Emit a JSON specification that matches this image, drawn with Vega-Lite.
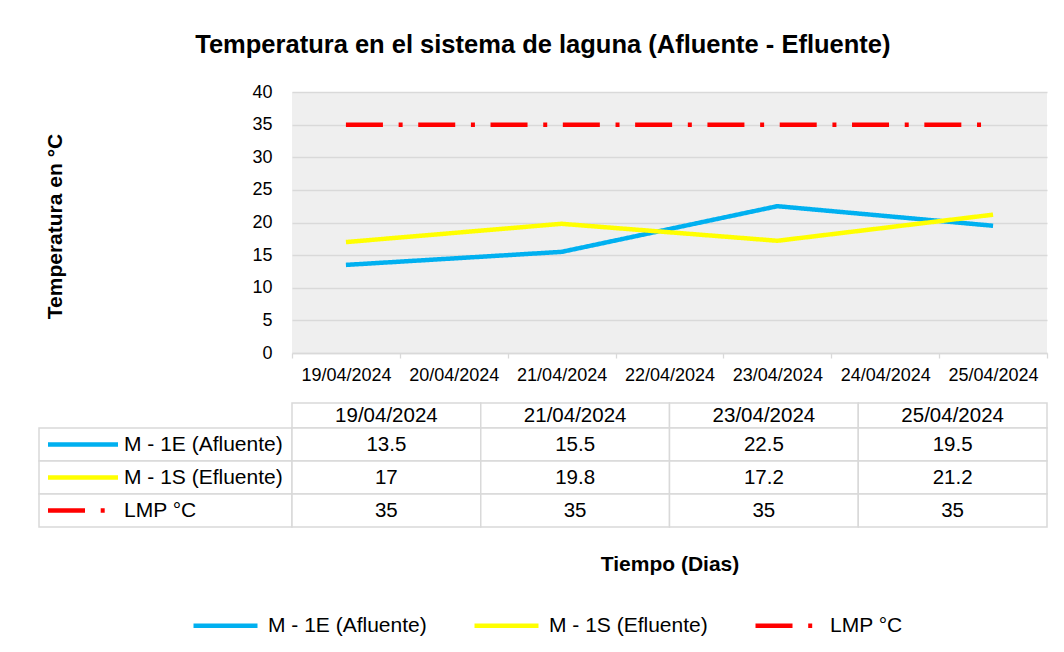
{
  "$schema": "https://vega.github.io/schema/vega-lite/v6.json",
  "padding": {"left": 38, "top": 32, "right": 5, "bottom": 5},
  "background": "white",
  "title": {
    "text": "Temperatura en el sistema de laguna (Afluente - Efluente)",
    "anchor": "start",
    "dx": 157,
    "fontSize": 25.5,
    "fontWeight": "bold",
    "font": "Liberation Sans",
    "color": "black",
    "offset": 25
  },
  "datasets": {
    "medidas": [
      {"fecha": "19/04/2024", "serie": "M - 1E (Afluente)", "valor": 13.5},
      {"fecha": "21/04/2024", "serie": "M - 1E (Afluente)", "valor": 15.5},
      {"fecha": "23/04/2024", "serie": "M - 1E (Afluente)", "valor": 22.5},
      {"fecha": "25/04/2024", "serie": "M - 1E (Afluente)", "valor": 19.5},
      {"fecha": "19/04/2024", "serie": "M - 1S (Efluente)", "valor": 17},
      {"fecha": "21/04/2024", "serie": "M - 1S (Efluente)", "valor": 19.8},
      {"fecha": "23/04/2024", "serie": "M - 1S (Efluente)", "valor": 17.2},
      {"fecha": "25/04/2024", "serie": "M - 1S (Efluente)", "valor": 21.2},
      {"fecha": "19/04/2024", "serie": "LMP °C", "valor": 35},
      {"fecha": "21/04/2024", "serie": "LMP °C", "valor": 35},
      {"fecha": "23/04/2024", "serie": "LMP °C", "valor": 35},
      {"fecha": "25/04/2024", "serie": "LMP °C", "valor": 35}
    ],
    "series": [
      {"serie": "M - 1E (Afluente)"},
      {"serie": "M - 1S (Efluente)"},
      {"serie": "LMP °C"}
    ],
    "fechas": [
      {"fecha": "19/04/2024"},
      {"fecha": "21/04/2024"},
      {"fecha": "23/04/2024"},
      {"fecha": "25/04/2024"}
    ]
  },
  "columns": 2,
  "spacing": 0,
  "bounds": "flush",
  "concat": [
    {
      "width": 253, "height": 261,
      "data": {"values": []},
      "mark": {"type": "point", "opacity": 0}
    },
    {
      "width": 755, "height": 261,
      "data": {"name": "medidas"},
      "view": {"fill": "#efefef", "stroke": null},
      "mark": {"type": "line", "strokeWidth": 4.5, "strokeCap": "butt", "strokeJoin": "round"},
      "encoding": {
        "x": {
          "field": "fecha", "type": "nominal",
          "scale": {"type": "band", "domain": ["19/04/2024", "20/04/2024", "21/04/2024", "22/04/2024", "23/04/2024", "24/04/2024", "25/04/2024"], "paddingInner": 0, "paddingOuter": 0},
          "axis": {"title": null, "tickBand": "extent", "ticks": true, "tickSize": 5, "tickColor": "#d9d9d9", "tickWidth": 1.3, "domain": true, "domainColor": "#d9d9d9", "domainWidth": 1.3, "labelFontSize": 18, "labelPadding": 8, "labelAngle": 0, "grid": false, "labelColor": "black", "labelFont": "Liberation Sans"}
        },
        "y": {
          "field": "valor", "type": "quantitative",
          "scale": {"domain": [0, 40], "nice": false},
          "axis": {"values": [0, 5, 10, 15, 20, 25, 30, 35, 40], "title": "Temperatura en °C", "titleFontSize": 21, "titleFontWeight": "bold", "titleFont": "Liberation Sans", "titleColor": "black", "titlePadding": 186, "titleY": 134, "domain": false, "ticks": false, "labelFontSize": 18, "labelPadding": 20, "labelColor": "black", "labelFont": "Liberation Sans", "grid": true, "gridColor": "#d9d9d9", "gridWidth": 1.3}
        },
        "color": {
          "field": "serie", "type": "nominal",
          "scale": {"domain": ["M - 1E (Afluente)", "M - 1S (Efluente)", "LMP °C"], "range": ["#00B0F0", "#FFFF00", "#FF0000"]},
          "legend": {"title": null, "orient": "none", "legendX": 152, "legendY": 499, "direction": "horizontal", "columns": 3, "symbolType": "stroke", "symbolSize": 4096, "symbolStrokeWidth": 4.5, "labelFontSize": 21, "labelFont": "Liberation Sans", "labelColor": "black", "labelOffset": 8, "columnPadding": 38, "padding": 0, "labelLimit": 0}
        },
        "strokeDash": {
          "field": "serie", "type": "nominal",
          "scale": {"domain": ["M - 1E (Afluente)", "M - 1S (Efluente)", "LMP °C"], "range": [[1, 0], [1, 0], [37, 15.7, 4, 15.6]]},
          "legend": {"title": null, "orient": "none", "legendX": 152, "legendY": 499, "direction": "horizontal", "columns": 3, "symbolType": "stroke", "symbolSize": 4096, "symbolStrokeWidth": 4.5, "labelFontSize": 21, "labelFont": "Liberation Sans", "labelColor": "black", "labelOffset": 8, "columnPadding": 38, "padding": 0, "labelLimit": 0}
        }
      }
    },
    {
      "width": 253, "height": 75,
      "data": {"values": []},
      "mark": {"type": "point", "opacity": 0}
    },
    {
      "width": 755, "height": 75,
      "data": {"name": "fechas"},
      "encoding": {
        "x": {"field": "fecha", "type": "nominal", "scale": {"type": "band", "domain": ["19/04/2024", "21/04/2024", "23/04/2024", "25/04/2024"], "paddingInner": 0, "paddingOuter": 0}, "axis": null},
        "y": {"datum": "Fecha", "type": "nominal", "scale": {"type": "band", "paddingInner": 0, "paddingOuter": 1.1304, "align": 1}, "axis": null}
      },
      "layer": [
        {"mark": {"type": "rect", "fill": "white", "stroke": "#d9d9d9", "strokeWidth": 1.5}},
        {"mark": {"type": "text", "fontSize": 20.5, "font": "Liberation Sans", "color": "black"}, "encoding": {"text": {"field": "fecha", "type": "nominal"}}}
      ]
    },
    {
      "width": 253, "height": 99,
      "data": {"name": "series"},
      "encoding": {
        "y": {"field": "serie", "type": "nominal", "scale": {"type": "band", "domain": ["M - 1E (Afluente)", "M - 1S (Efluente)", "LMP °C"], "paddingInner": 0, "paddingOuter": 0}, "axis": null}
      },
      "layer": [
        {"mark": {"type": "rect", "fill": "white", "stroke": "#d9d9d9", "strokeWidth": 1.5}},
        {
          "mark": {"type": "point", "shape": "stroke", "size": 4900, "strokeWidth": 4.5, "xOffset": -82.5, "opacity": 1, "filled": false},
          "encoding": {
            "color": {"field": "serie", "type": "nominal", "scale": {"domain": ["M - 1E (Afluente)", "M - 1S (Efluente)", "LMP °C"], "range": ["#00B0F0", "#FFFF00", "#FF0000"]}, "legend": null},
            "strokeDash": {"field": "serie", "type": "nominal", "scale": {"domain": ["M - 1E (Afluente)", "M - 1S (Efluente)", "LMP °C"], "range": [[1, 0], [1, 0], [37, 15.7, 4, 15.6]]}, "legend": null}
          }
        },
        {"mark": {"type": "text", "align": "left", "dx": -41.5, "fontSize": 21, "font": "Liberation Sans", "color": "black"}, "encoding": {"text": {"field": "serie", "type": "nominal"}}}
      ]
    },
    {
      "width": 755, "height": 99,
      "data": {"name": "medidas"},
      "encoding": {
        "x": {"field": "fecha", "type": "nominal", "scale": {"type": "band", "domain": ["19/04/2024", "21/04/2024", "23/04/2024", "25/04/2024"], "paddingInner": 0, "paddingOuter": 0}, "axis": {"title": "Tiempo (Dias)", "labels": false, "ticks": false, "domain": false, "grid": false, "titleFontSize": 21, "titleFontWeight": "bold", "titleFont": "Liberation Sans", "titleColor": "black", "titlePadding": 26}},
        "y": {"field": "serie", "type": "nominal", "scale": {"type": "band", "domain": ["M - 1E (Afluente)", "M - 1S (Efluente)", "LMP °C"], "paddingInner": 0, "paddingOuter": 0}, "axis": null}
      },
      "layer": [
        {"mark": {"type": "rect", "fill": "white", "stroke": "#d9d9d9", "strokeWidth": 1.5}},
        {"mark": {"type": "text", "fontSize": 20.5, "font": "Liberation Sans", "color": "black"}, "encoding": {"text": {"field": "valor", "type": "nominal"}}}
      ]
    }
  ],
  "config": {
    "font": "Liberation Sans",
    "view": {"stroke": null},
    "axis": {"labelColor": "black", "titleColor": "black"},
    "legend": {"labelColor": "black"}
  }
}
